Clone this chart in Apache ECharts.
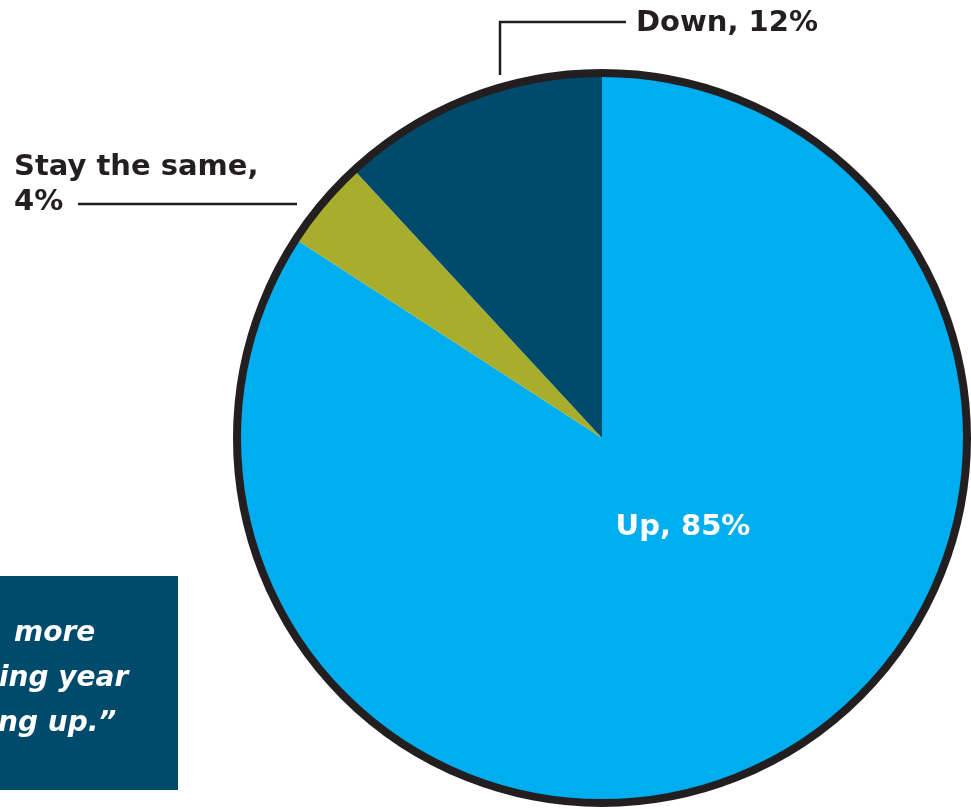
<!DOCTYPE html>
<html>
<head>
<meta charset="utf-8">
<script src="https://cdn.jsdelivr.net/npm/echarts@6/dist/echarts.min.js"></script>
<style>
html,body{margin:0;padding:0;background:#fff;}
#chart{width:971px;height:809px;}
</style>
</head>
<body>
<div id="chart"></div>
<script>
// ---- data ----
const categories = ['Up', 'Stay the same', 'Down'];
const values = [85, 4, 12];
const colors = ['#00ADEE', '#A8AD2B', '#004A6B'];
const quoteLines = ['more', 'ing year', 'ng up.\u201D'];

const INK = '#231F20';
const FONT = '"DejaVu Sans", sans-serif';
const CX = 602, CY = 438, R = 365;

const pieData = categories.map((name, i) => ({
  name: name,
  value: values[i],
  itemStyle: { color: colors[i] },
  label: i === 0 ? { color: '#fff' } : { color: INK },
  labelLine: { show: i !== 0 }
}));

const chart = echarts.init(document.getElementById('chart'), null, { renderer: 'canvas' });

chart.setOption({
  backgroundColor: '#fff',
  animation: false,
  graphic: [
    { type: 'rect', shape: { x: 0, y: 576, width: 178, height: 214 }, style: { fill: '#004A6B' }, z: 1 },
    ...quoteLines.map((t, i) => ({
      type: 'text', z: 2,
      x: [14, -1, -2][i], y: 634 + i * 45,
      style: { text: t, fill: '#fff', font: 'italic bold 28px ' + FONT, verticalAlign: 'middle', align: 'left' }
    }))
  ],
  series: [
    {
      type: 'pie',
      center: [CX, CY],
      radius: R,
      startAngle: 90,
      clockwise: true,
      silent: true,
      z: 3,
      itemStyle: { borderWidth: 0 },
      label: {
        show: true,
        position: 'outside',
        fontFamily: FONT,
        fontWeight: 'bold',
        fontSize: 29,
        lineHeight: 35,
        formatter: p => p.name === 'Stay the same' ? 'Stay the same,\n' + p.value + '%' : p.name + ', ' + p.value + '%'
      },
      labelLine: { show: true, lineStyle: { color: INK, width: 2.5 } },
      labelLayout: function (p) {
        if (p.dataIndex === 0) {
          return { x: 683, y: 527, align: 'center', verticalAlign: 'middle' };
        } else if (p.dataIndex === 1) {
          return { x: 14, y: 150, align: 'left', verticalAlign: 'top',
                   labelLinePoints: [[297, 204], [190, 204], [78, 204]] };
        } else {
          return { x: 636, y: 23, align: 'left', verticalAlign: 'middle',
                   labelLinePoints: [[500, 75], [500, 22], [626, 22]] };
        }
      },
      emphasis: { disabled: true },
      data: pieData
    },
    {
      type: 'pie',
      center: [CX, CY],
      radius: R,
      silent: true,
      z: 4,
      label: { show: false },
      labelLine: { show: false },
      emphasis: { disabled: true },
      itemStyle: { color: 'rgba(0,0,0,0)', borderColor: INK, borderWidth: 8 },
      data: [{ value: 1, name: 'outline' }]
    }
  ]
});
</script>
</body>
</html>
